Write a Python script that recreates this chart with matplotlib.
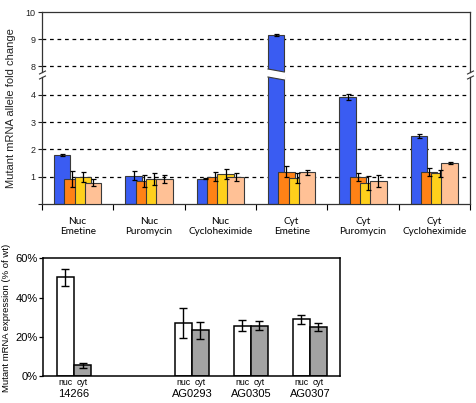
import matplotlib
matplotlib.use("Agg")
import matplotlib.pyplot as plt
import numpy as np
from matplotlib.transforms import blended_transform_factory

plt.rcParams['font.family'] = ['Liberation Sans', 'DejaVu Sans']

# ---------------- data: top panel ----------------
conditions = ["Nuc\nEmetine", "Nuc\nPuromycin", "Nuc\nCycloheximide",
              "Cyt\nEmetine", "Cyt\nPuromycin", "Cyt\nCycloheximide"]
s1_vals = [1.79, 1.04, 0.93, 9.15, 3.92, 2.49]
s1_err = [0.05, 0.15, 0.03, 0.03, 0.12, 0.06]
s2_vals = [0.91, 0.84, 1.00, 1.18, 0.99, 1.16]
s2_err = [0.30, 0.22, 0.17, 0.20, 0.15, 0.14]
s3_vals = [0.99, 0.92, 1.10, 0.94, 0.78, 1.13]
s3_err = [0.17, 0.22, 0.17, 0.18, 0.25, 0.13]
s4_vals = [0.78, 0.92, 1.00, 1.16, 0.85, 1.49]
s4_err = [0.13, 0.14, 0.15, 0.09, 0.23, 0.04]
top_colors = ["#3a5cf2", "#ff8216", "#ffd01c", "#ffc196"]

# ---------------- data: bottom panel ----------------
samples = ["14266", "AG0293", "AG0305", "AG0307"]
sample_pos = [0, 2, 3, 4]
nuc_vals = [50.4, 26.9, 25.7, 28.9]
nuc_err = [4.4, 7.6, 2.9, 2.3]
cyt_vals = [5.4, 23.3, 25.7, 25.0]
cyt_err = [1.2, 4.2, 2.4, 2.0]

W, H = 476, 403
fig = plt.figure(figsize=(W / 100, H / 100), dpi=100)

def ax_rect(x0, y0, x1, y1):
    return [x0 / W, 1 - y1 / H, (x1 - x0) / W, (y1 - y0) / H]

ax_up = fig.add_axes(ax_rect(42, 12, 470, 72))
ax_lo = fig.add_axes(ax_rect(42, 77, 470, 204))

series = [(s1_vals, s1_err), (s2_vals, s2_err), (s3_vals, s3_err), (s4_vals, s4_err)]
offsets = [-0.217, -0.074, 0.074, 0.215]
bw = 0.23
x = np.arange(len(conditions))

for ax in (ax_up, ax_lo):
    for k, ((vals, err), off, col) in enumerate(zip(series, offsets, top_colors)):
        ax.bar(x + off, vals, width=bw, color=col, edgecolor="#3a3a3a",
               linewidth=0.8, zorder=2 + k)
        ax.errorbar(x + off, vals, yerr=err, fmt="none", ecolor="black",
                    elinewidth=0.9, capsize=1.8, capthick=0.9, zorder=10)
    ax.set_xlim(-0.5, len(conditions) - 0.5)

ax_up.set_ylim(7.79, 10)
ax_lo.set_ylim(0, 4.65)
ax_up.set_yticks([8, 9, 10])
ax_lo.set_yticks([0, 1, 2, 3, 4], ["", "1", "2", "3", "4"])
for yv in [8, 9]:
    ax_up.axhline(yv, color="black", linestyle=(0, (3, 3)), linewidth=0.9, zorder=1)
for yv in [1, 2, 3, 4]:
    ax_lo.axhline(yv, color="black", linestyle=(0, (3, 3)), linewidth=0.9, zorder=1)

for ax in (ax_up, ax_lo):
    ax.tick_params(axis="y", direction="out", length=3, width=0.8,
                   labelsize=6.5, pad=1.5, colors="#222222")
    for s in ax.spines.values():
        s.set_linewidth(0.9)
        s.set_color("#333333")

ax_up.spines["bottom"].set_visible(False)
ax_up.tick_params(axis="x", bottom=False, labelbottom=False)
ax_lo.spines["top"].set_visible(False)

# x ticks: boundaries as minor ticks, labels at centers
ax_lo.set_xticks(x, conditions)
ax_lo.set_xticks(np.arange(len(conditions) + 1) - 0.5, minor=True)
ax_lo.tick_params(axis="x", which="major", length=0, pad=9, labelsize=7.2)
ax_lo.tick_params(axis="x", which="minor", length=4, width=0.8, direction="out")
for lab in ax_lo.get_xticklabels():
    lab.set_family(["Lato", "DejaVu Sans"])
    lab.set_linespacing(1.25)

# broken-bar slant for the tall bar
big = int(np.argmax(s1_vals))
bx0 = x[big] + offsets[0] - bw / 2
bx1 = x[big] + offsets[0] + bw / 2
up_h = 60.0
lo_h = 127.0
d_up = (10 - 7.79) * 3.0 / up_h
d_lo = 4.65 * 3.0 / lo_h
ax_up.fill([bx0 - 0.01, bx0 - 0.01, bx1 + 0.01], [7.79, 7.79 + d_up, 7.79 - 0.001],
           color="white", zorder=20, clip_on=False, linewidth=0)
ax_up.plot([bx0, bx1], [7.79 + d_up, 7.79], color="#3a3a3a", linewidth=0.8, zorder=21,
           clip_on=False)
ax_lo.fill([bx0 - 0.01, bx1 + 0.01, bx1 + 0.01], [4.65 + 0.001, 4.65, 4.65 - d_lo],
           color="white", zorder=20, clip_on=False, linewidth=0)
ax_lo.plot([bx0, bx1], [4.65, 4.65 - d_lo], color="#3a3a3a", linewidth=0.8, zorder=21,
           clip_on=False)

# axis break marks
kw = dict(marker=[(-1, -0.5), (1, 0.5)], markersize=5, linestyle="none",
          color="#333333", mec="#333333", mew=0.8, clip_on=False)
ax_up.plot([0, 1], [0, 0], transform=ax_up.transAxes, **kw)
ax_lo.plot([0, 1], [1, 1], transform=ax_lo.transAxes, **kw)

fig.text(11 / W, 1 - 108 / H, "Mutant mRNA allele fold change", rotation=90,
         ha="center", va="center", fontsize=8, color="#222222")

# ---------------- bottom panel ----------------
ax_b = fig.add_axes(ax_rect(43, 258.3, 340, 376))
bw2 = 0.29
sp = np.array(sample_pos, dtype=float)
ax_b.bar(sp - bw2 / 2, nuc_vals, width=bw2, color="white", edgecolor="black",
         linewidth=1.1, zorder=2)
ax_b.bar(sp + bw2 / 2, cyt_vals, width=bw2, color="#a3a3a3", edgecolor="black",
         linewidth=1.1, zorder=2)
ax_b.errorbar(sp - bw2 / 2, nuc_vals, yerr=nuc_err, fmt="none", ecolor="black",
              elinewidth=1.0, capsize=3, capthick=1.0, zorder=3)
ax_b.errorbar(sp + bw2 / 2, cyt_vals, yerr=cyt_err, fmt="none", ecolor="black",
              elinewidth=1.0, capsize=3, capthick=1.0, zorder=3)
ax_b.set_xlim(-0.525, 4.51)
ax_b.set_ylim(0, 60)
ax_b.set_yticks([0, 20, 40, 60], ["0%", "20%", "40%", "60%"])
ax_b.tick_params(axis="y", direction="out", length=3, width=0.9, labelsize=8, pad=1)
tick_pos = np.concatenate([[p - bw2 / 2, p + bw2 / 2] for p in sp])
tick_lab = ["nuc", "cyt"] * len(samples)
ax_b.set_xticks(tick_pos, tick_lab)
ax_b.tick_params(axis="x", length=0, labelsize=6.3, pad=1.5)
for s in ax_b.spines.values():
    s.set_linewidth(1.1)
trans = blended_transform_factory(ax_b.transData, ax_b.transAxes)
for p, name in zip(sp, samples):
    ax_b.text(p, -0.155, name, transform=trans, ha="center", va="center", fontsize=8)

fig.text(7 / W, 1 - 318 / H, "Mutant mRNA expression (% of wt)", rotation=90,
         ha="center", va="center", fontsize=6.8)

fig.savefig("out.png", dpi=100)
